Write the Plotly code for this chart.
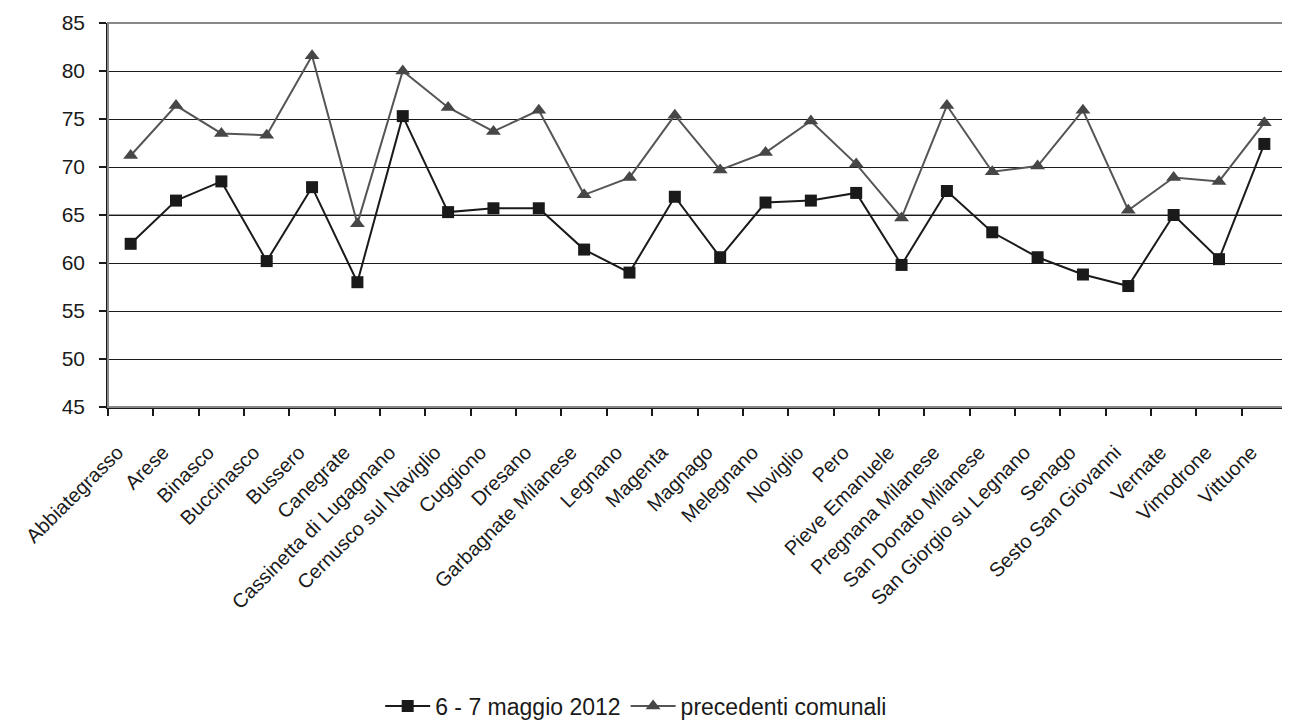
import plotly.graph_objects as go

comuni = ["Abbiategrasso", "Arese", "Binasco", "Buccinasco", "Bussero", "Canegrate",
          "Cassinetta di Lugagnano", "Cernusco sul Naviglio", "Cuggiono", "Dresano",
          "Garbagnate Milanese", "Legnano", "Magenta", "Magnago", "Melegnano", "Noviglio",
          "Pero", "Pieve Emanuele", "Pregnana Milanese", "San Donato Milanese",
          "San Giorgio su Legnano", "Senago", "Sesto San Giovanni", "Vernate",
          "Vimodrone", "Vittuone"]

maggio_2012 = [62.0, 66.5, 68.5, 60.2, 67.9, 58.0, 75.3, 65.3, 65.7, 65.7,
               61.4, 59.0, 66.9, 60.6, 66.3, 66.5, 67.3, 59.8, 67.5, 63.2,
               60.6, 58.8, 57.6, 65.0, 60.4, 72.4]

precedenti = [71.2, 76.4, 73.5, 73.3, 81.6, 64.1, 80.0, 76.2, 73.7, 75.9,
              67.1, 68.9, 75.4, 69.7, 71.5, 74.8, 70.3, 64.7, 76.4, 69.5,
              70.1, 75.9, 65.5, 68.9, 68.5, 74.6]

fig = go.Figure()
fig.add_trace(go.Scatter(
    x=comuni, y=maggio_2012, name="6 - 7 maggio 2012", mode="lines+markers",
    line=dict(color="#1a1a1a", width=2),
    marker=dict(symbol="square", size=12, color="#1a1a1a"),
))
fig.add_trace(go.Scatter(
    x=comuni, y=precedenti, name="precedenti comunali", mode="lines+markers",
    line=dict(color="#555555", width=2),
    marker=dict(symbol="triangle-up", size=13, color="#474747"),
))

fam = "Liberation Sans, Arial, sans-serif"
font = dict(family=fam, size=21, color="#1a1a1a")
xfont = dict(family=fam, size=20, color="#1a1a1a")

fig.update_layout(
    width=1290, height=722,
    margin=dict(l=100, r=11, t=15, b=323, autoexpand=False),
    paper_bgcolor="white", plot_bgcolor="white",
    font=font,
    showlegend=True,
    legend=dict(orientation="h", x=0.448, xanchor="center", y=-0.779, yanchor="middle",
                font=dict(family=fam, size=23, color="#1a1a1a"),
                itemwidth=45, bgcolor="rgba(0,0,0,0)"),
    xaxis=dict(
        type="category", tickangle=-45, tickson="boundaries",
        ticks="outside", ticklen=7, tickcolor="#1a1a1a", tickwidth=1.5,
        showline=True, linecolor="#1a1a1a", linewidth=1.5,
        showgrid=False, tickfont=xfont, range=[-0.5, len(comuni) - 0.5],
        ticklabelstandoff=24, ticklabelshift=-13, automargin=False,
    ),
    yaxis=dict(
        range=[45, 85], dtick=5, tick0=45,
        ticks="outside", ticklen=7, tickcolor="#1a1a1a", tickwidth=1.5,
        showline=True, linecolor="#1a1a1a", linewidth=1.5,
        showgrid=True, gridcolor="#1a1a1a", gridwidth=1.2,
        tickfont=font, zeroline=False, ticklabelstandoff=10, automargin=False,
    ),
    shapes=[
        dict(type="line", xref="paper", yref="y", x0=0, x1=1, y0=65, y1=65,
             line=dict(color="#777777", width=1.5), layer="below"),
        dict(type="rect", xref="paper", yref="paper", x0=0, x1=1, y0=0, y1=1,
             line=dict(color="#888888", width=2), layer="above"),
    ],
)

fig.write_html("out.html")
